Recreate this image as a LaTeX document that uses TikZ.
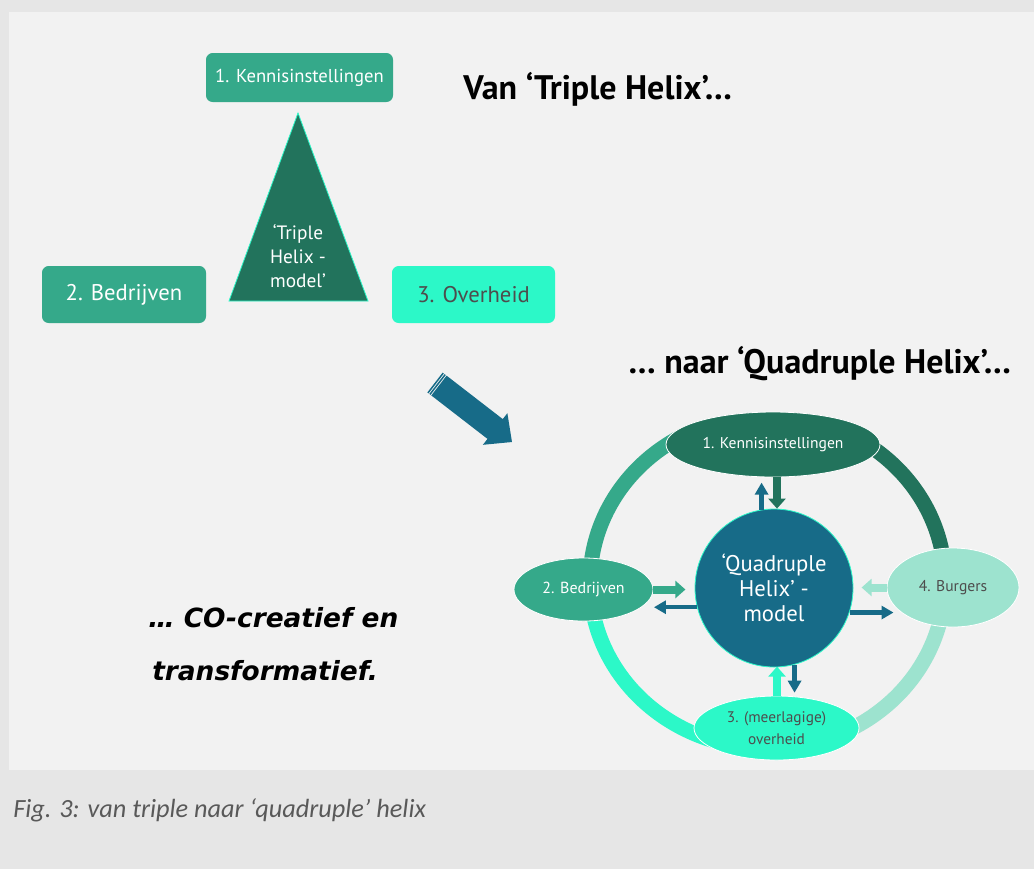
\documentclass[tikz,border=0pt]{standalone}
\usepackage{fontspec}
\setmainfont{PT Sans}
\newfontfamily\capfont{Carlito}
\newfontfamily\slogfont{DejaVu Sans}
\usetikzlibrary{shapes.geometric,arrows.meta,calc}
\definecolor{outerbg}{HTML}{E6E6E6}
\definecolor{innerbg}{HTML}{F2F2F2}
\definecolor{tealg}{HTML}{35A98A}
\definecolor{darkg}{HTML}{22735C}
\definecolor{mint}{HTML}{2CF8C8}
\definecolor{lmint}{HTML}{9DE3CF}
\definecolor{hblue}{HTML}{176B88}
\definecolor{graytxt}{HTML}{4D4D4D}
\definecolor{captxt}{HTML}{595959}
\begin{document}
\begin{tikzpicture}[x=0.75pt,y=-0.75pt,
  box/.style={rectangle,rounded corners=5pt,inner sep=0pt,text=white},
  ell/.style={ellipse,inner sep=0pt,draw=white,line width=0.6pt,text=white},
  ringseg/.style={line width=11.25pt,line cap=butt},
  barr/.style={hblue,line width=3.4pt,-{Triangle[length=9pt,width=9.75pt]}},
  garr/.style={line width=6pt,-{Triangle[length=7.5pt,width=12.75pt]}},
  title/.style={inner sep=0pt,anchor=base west,font=\fontsize{25.5}{30}\selectfont\bfseries,text=black},
  slogan/.style={inner sep=0pt,anchor=base west,font=\slogfont\fontsize{19.8}{24}\selectfont\bfseries\itshape,text=black},
]
\useasboundingbox (0,0) rectangle (1034,869);
\fill[outerbg] (0,0) rectangle (1034,869);
\fill[innerbg] (9,12) rectangle (1034,770);

% ---------- Triple helix ----------
\node[box,fill=tealg,minimum width=187*0.75pt,minimum height=49*0.75pt,font=\fontsize{14}{16}\selectfont] (t1) at (299.5,77.5) {1. Kennisinstellingen};
\node[box,fill=tealg,minimum width=164*0.75pt,minimum height=57*0.75pt,font=\fontsize{17}{19}\selectfont] (t2) at (124,294.5) {2. Bedrijven};
\node[box,fill=mint,text=graytxt,minimum width=163*0.75pt,minimum height=57*0.75pt,font=\fontsize{17}{19}\selectfont] (t3) at (473.5,294.5) {3. Overheid};
\filldraw[fill=darkg,draw=mint,line width=0.6pt] (298,113) -- (229,301) -- (368,301) -- cycle;
\node[inner sep=0pt,align=center,text=white,font=\fontsize{14.5}{18}\selectfont] (tm) at (298,256) {‘Triple\\Helix -\\model’};

\node[title] (h1) at (463,99) {Van ‘Triple Helix’…};
\node[title] (h2) at (628,373) {… naar ‘Quadruple Helix’…};

% ---------- big arrow ----------
\begin{scope}[shift={(435,382.5)},rotate=-37.7]
  \fill[hblue] (5,-12.5) -- (76,-12.5) -- (76,-20) -- (97.3,0) -- (76,20) -- (76,12.5) -- (5,12.5) -- cycle;
  \fill[hblue] (0,-12.5) rectangle (1.5,12.5);
  \fill[hblue] (2.5,-12.5) rectangle (4,12.5);
\end{scope}

% ---------- Quadruple helix ring ----------
\draw[ringseg,tealg] plot[domain=180:245,samples=50] ({767.5+177.5*cos(\x)},{582+166.5*sin(\x)});
\draw[ringseg,darkg] plot[domain=295:360,samples=50] ({767.5+177.5*cos(\x)},{582+166.5*sin(\x)});
\draw[ringseg,lmint] plot[domain=0:80,samples=50] ({767.5+177.5*cos(\x)},{582+166.5*sin(\x)});
\draw[ringseg,mint] plot[domain=100:180,samples=50] ({767.5+177.5*cos(\x)},{582+166.5*sin(\x)});

\node[ell,fill=darkg,minimum width=214*0.75pt,minimum height=65*0.75pt,font=\fontsize{11.7}{13}\selectfont] (k) at (773,444.5) {1. Kennisinstellingen};
\node[ell,fill=tealg,minimum width=139*0.75pt,minimum height=63*0.75pt,font=\fontsize{12}{13}\selectfont] (b) at (583.5,589.5) {2. Bedrijven};
\node[ell,fill=lmint,text=graytxt,minimum width=132*0.75pt,minimum height=79*0.75pt,font=\fontsize{11.7}{13}\selectfont] (g) at (953,587.5) {4. Burgers};
\node[ell,fill=mint,text=graytxt,align=center,minimum width=165*0.75pt,minimum height=64*0.75pt,font=\fontsize{11.5}{16.5}\selectfont] (o) at (776.5,728) {3. (meerlagige)\\overheid};
\node[circle,fill=hblue,draw=mint,line width=0.6pt,minimum size=158*0.75pt,inner sep=0pt,text=white,align=center,font=\fontsize{17}{18.75}\selectfont] (q) at (774,588) {‘Quadruple\\Helix’ -\\model};

\draw[barr] (q.99) -- ++(0,-27);
\draw[garr,darkg] ($(k.south)+(4,0)$) -- ($(q.north)+(3,0)$);
\draw[garr,tealg] (b.east) -- ++(32,0);
\draw[barr] (q.194) -- ++(-43,0);
\draw[garr,lmint] (g.west) -- ++(-25,0);
\draw[barr] (q.-18) -- ++(44,0);
\draw[barr] (q.-75) -- ++(0,28);
\draw[garr,mint] ($(o.north)+(0.5,0)$) -- ++(0,-29);

% ---------- slogan and caption ----------
\node[slogan] (s1) at (148,627) {… CO-creatief en};
\node[slogan] (s2) at (152,680) {transformatief.};
\node[inner sep=0pt,anchor=base west,text=captxt,font=\capfont\fontsize{19.7}{23}\selectfont\itshape] (cap) at (13,817) {Fig. 3: van triple naar ‘quadruple’ helix};
\end{tikzpicture}
\end{document}
